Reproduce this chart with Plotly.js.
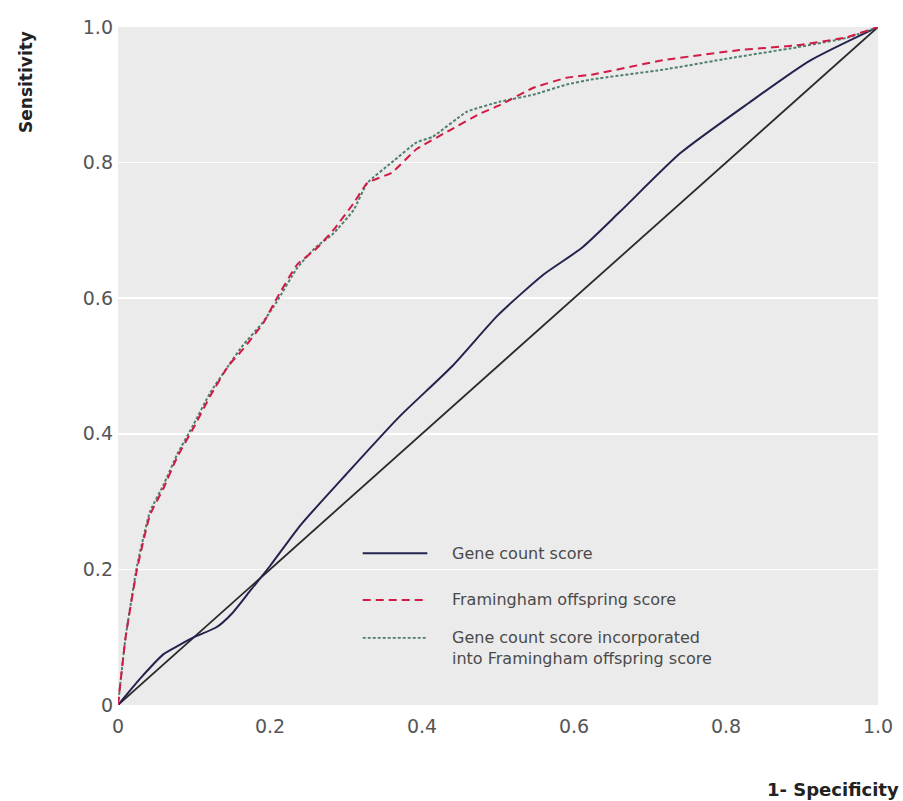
<!DOCTYPE html>
<html>
<head>
<meta charset="utf-8">
<script src="https://cdn.plot.ly/plotly-3.0.1.min.js"></script>
<style>html,body{margin:0;padding:0;background:#fff;}#chart{width:903px;height:801px;}</style>
</head>
<body>
<div id="chart"></div>
<script>
// Reference diagonal
var diagX = [0, 1];
var diagY = [0, 1];

// Gene count score
var geneX = [0, 0.03, 0.06, 0.08, 0.10, 0.13, 0.15, 0.175, 0.20, 0.24, 0.30, 0.37, 0.44, 0.50, 0.56, 0.61, 0.66, 0.74, 0.83, 0.91, 1.0];
var geneY = [0, 0.04, 0.075, 0.088, 0.10, 0.115, 0.135, 0.17, 0.205, 0.265, 0.34, 0.425, 0.50, 0.575, 0.635, 0.674, 0.727, 0.814, 0.888, 0.95, 1.0];

// Framingham offspring score
var framX = [0, 0.01, 0.025, 0.042, 0.06, 0.078, 0.10, 0.121, 0.145, 0.164, 0.191, 0.209, 0.236, 0.26, 0.283, 0.31, 0.328, 0.36, 0.393, 0.437, 0.476, 0.503, 0.546, 0.59, 0.625, 0.717, 0.818, 0.893, 0.959, 1.0];
var framY = [0, 0.10, 0.20, 0.28, 0.32, 0.366, 0.41, 0.455, 0.50, 0.524, 0.563, 0.60, 0.65, 0.672, 0.70, 0.74, 0.77, 0.785, 0.82, 0.848, 0.872, 0.885, 0.91, 0.925, 0.93, 0.951, 0.966, 0.973, 0.985, 1.0];

// Gene count score incorporated into Framingham offspring score
var combX = [0, 0.01, 0.025, 0.042, 0.06, 0.078, 0.10, 0.121, 0.145, 0.164, 0.191, 0.209, 0.236, 0.26, 0.283, 0.31, 0.328, 0.36, 0.393, 0.414, 0.459, 0.503, 0.546, 0.59, 0.625, 0.717, 0.805, 0.893, 0.959, 1.0];
var combY = [0, 0.10, 0.205, 0.285, 0.325, 0.37, 0.415, 0.46, 0.50, 0.53, 0.565, 0.595, 0.645, 0.675, 0.695, 0.73, 0.77, 0.80, 0.83, 0.838, 0.875, 0.89, 0.90, 0.915, 0.923, 0.937, 0.954, 0.97, 0.984, 1.0];

var tickVals = [0, 0.2, 0.4, 0.6, 0.8, 1.0];
var tickText = ["0", "0.2", "0.4", "0.6", "0.8", "1.0"];

var seriesNames = ["Gene count score", "Framingham offspring score", "Gene count score incorporated<br>into Framingham offspring score"];
var axisTitleX = "1- Specificity";
var axisTitleY = "Sensitivity";

var colGene = "#23234f", colFram = "#d11a44", colComb = "#4f7f6c", colDiag = "#2a2a2a";

var traces = [
  {x: diagX, y: diagY, mode: "lines", line: {color: colDiag, width: 1.8}, showlegend: false, hoverinfo: "skip"},
  {x: geneX, y: geneY, mode: "lines", line: {color: colGene, width: 2, shape: "spline", smoothing: 0.6}, name: seriesNames[0], showlegend: false},
  {x: combX, y: combY, mode: "lines", line: {color: colComb, width: 2, dash: "3px,2px", shape: "spline", smoothing: 0.4}, name: seriesNames[2], showlegend: false},
  {x: framX, y: framY, mode: "lines", line: {color: colFram, width: 2, dash: "8px,5px", shape: "spline", smoothing: 0.4}, name: seriesNames[1], showlegend: false}
];

var txtFont = {family: "DejaVu Sans, sans-serif", size: 16, color: "#4a4a4a"};
var lx0 = 0.322, lx1 = 0.407, ltx = 0.437;
var shapes = [
  {type: "line", xref: "paper", yref: "paper", x0: lx0, x1: lx1, y0: 0.224, y1: 0.224, line: {color: colGene, width: 2}},
  {type: "line", xref: "paper", yref: "paper", x0: lx0, x1: lx1, y0: 0.155, y1: 0.155, line: {color: colFram, width: 2, dash: "8px,5px"}},
  {type: "line", xref: "paper", yref: "paper", x0: lx0, x1: lx1, y0: 0.099, y1: 0.099, line: {color: colComb, width: 1.6, dash: "3px,2px"}}
];
var annotations = [
  {xref: "paper", yref: "paper", x: ltx, y: 0.224, xanchor: "left", yanchor: "middle", text: seriesNames[0], showarrow: false, font: txtFont},
  {xref: "paper", yref: "paper", x: ltx, y: 0.155, xanchor: "left", yanchor: "middle", text: seriesNames[1], showarrow: false, font: txtFont},
  {xref: "paper", yref: "paper", x: ltx, y: 0.117, xanchor: "left", yanchor: "top", align: "left", text: seriesNames[2], showarrow: false, font: txtFont},
  {xref: "paper", yref: "paper", x: 1.03, y: -0.124, xanchor: "right", yanchor: "middle", text: "<b>" + axisTitleX + "</b>", showarrow: false, font: {family: "DejaVu Sans, sans-serif", size: 18, color: "#222"}},
  {xref: "paper", yref: "paper", x: -0.121, y: 0.919, xanchor: "center", yanchor: "middle", textangle: -90, text: "<b>" + axisTitleY + "</b>", showarrow: false, font: {family: "DejaVu Sans, sans-serif", size: 17, color: "#222"}}
];

var layout = {
  width: 903, height: 801,
  margin: {l: 118, r: 25, t: 27, b: 96},
  paper_bgcolor: "#ffffff",
  plot_bgcolor: "#ebebeb",
  showlegend: false,
  xaxis: {range: [0, 1], tickvals: tickVals, ticktext: tickText, showgrid: false, zeroline: false, showline: false, ticks: "", ticklabelstandoff: 8,
          tickfont: {family: "DejaVu Sans, sans-serif", size: 19, color: "#555"}},
  yaxis: {range: [0, 1], tickvals: tickVals, ticktext: tickText, showgrid: true, gridcolor: "#ffffff", gridwidth: 1.5, zeroline: false, showline: false, ticks: "", ticklabelstandoff: 4,
          tickfont: {family: "DejaVu Sans, sans-serif", size: 19, color: "#555"}},
  shapes: shapes,
  annotations: annotations
};

Plotly.newPlot("chart", traces, layout, {displayModeBar: false, staticPlot: true});
</script>
</body>
</html>
